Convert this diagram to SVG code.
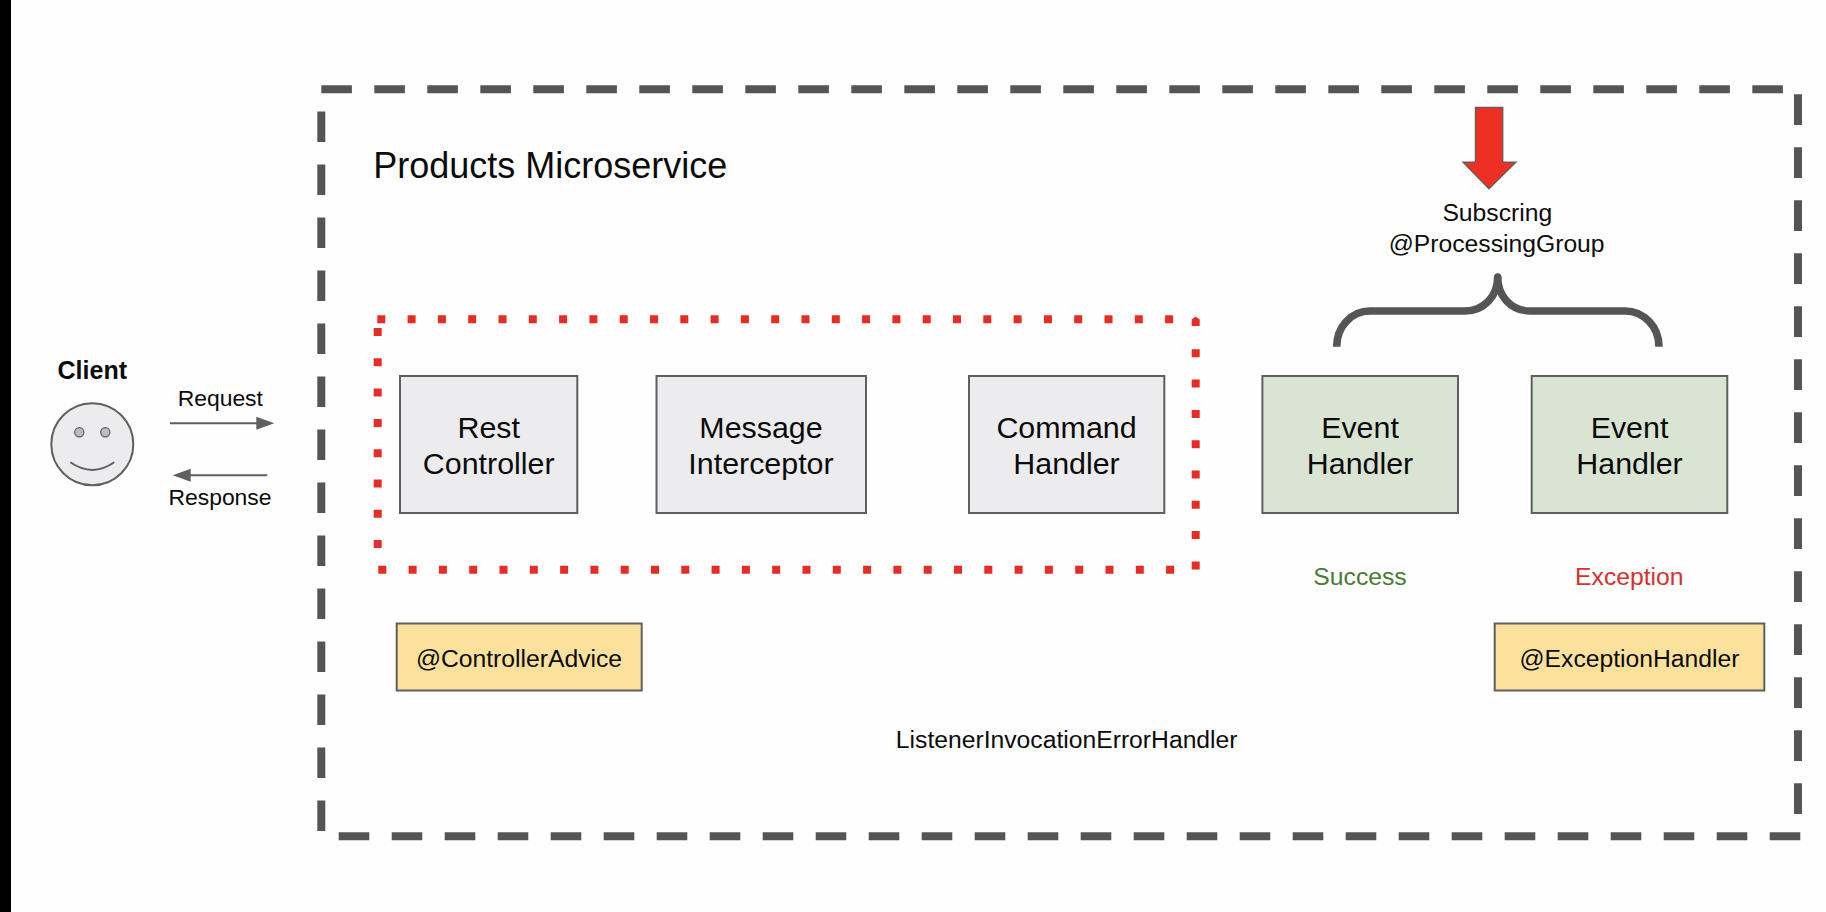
<svg xmlns="http://www.w3.org/2000/svg" width="1826" height="912" viewBox="0 0 1826 912">
<style>
text{font-family:"Liberation Sans",Arial,sans-serif;fill:#0b0b0b;text-anchor:middle}
.box{stroke:#5f5f5f;stroke-width:2}
.grey{fill:#ecebee}
.green{fill:#d9e5d2}
.yellow{fill:#fbe19b}
.big{font-size:30.4px}
.mid{font-size:24.7px}
.small{font-size:22.9px}
.frame{fill:none;stroke:#555557;stroke-width:8;stroke-dasharray:30.6 22.4}
.dots{fill:none;stroke:#e52d25;stroke-width:8;stroke-dasharray:8 22.3}
.conn{fill:none;stroke:#5f5f5f;stroke-width:2}
.head{fill:#5f5f5f}
</style>
<rect width="1826" height="912" fill="#fefefe"/>
<rect x="0" y="0" width="11" height="912" fill="#000"/>

<g id="frame">
<path class="frame" d="M321.3 89.3H1785"/>
<path class="frame" d="M1798 94.3V818"/>
<path class="frame" d="M338.7 836.3H1805"/>
<path class="frame" d="M321.3 831V105"/>
</g>
<g id="red-group">
<path class="dots" d="M377.3 319.3H1178"/>
<path class="dots" d="M377.7 328V552"/>
<path class="dots" d="M378.3 569.7H1178"/>
<path class="dots" d="M1195.7 349.3V570"/>
<path d="M1195.5 316.5L1199.7 319.5V326H1191.7V319.5Z" fill="#e52d25"/>
</g>

<g id="title"><text x="550.3" y="178" style="font-size:36px">Products Microservice</text></g>

<g id="client">
<text x="92.3" y="378.7" font-weight="700" style="font-size:25px">Client</text>
<circle cx="92.3" cy="444.3" r="41" fill="#ecebee" stroke="#5f5f5f" stroke-width="2"/>
<circle cx="79.3" cy="432.3" r="4.6" fill="#bcbcbc" stroke="#5f5f5f" stroke-width="1.2"/>
<circle cx="105.3" cy="432.3" r="4.6" fill="#bcbcbc" stroke="#5f5f5f" stroke-width="1.2"/>
<path d="M70.3 462.3Q92.3 477.5 114.3 462.3" fill="none" stroke="#5f5f5f" stroke-width="2"/>
</g>

<g id="connectors">
<path class="conn" d="M170 423.3H258"/>
<path class="head" d="M256.3 416.8L274.3 423.3L256.3 429.8Z"/>
<path class="conn" d="M267.3 475.3H189"/>
<path class="head" d="M190.7 468.8L172.7 475.3L190.7 481.8Z"/>
<path id="brace" d="M1336.7 346.7C1336.7 327 1351 311 1370 311H1465C1484 311 1497.7 296 1497.7 277C1497.7 296 1511 311 1530 311H1625C1644 311 1659 327 1659 346.7" fill="none" stroke="#555557" stroke-width="7.6"/>
<circle cx="1497.7" cy="277" r="3.8" fill="#555557"/>
</g>

<g id="label-request"><text class="small" x="220.3" y="405.7">Request</text></g>
<g id="label-response"><text class="small" x="220" y="505">Response</text></g>

<g id="rest-controller">
<rect class="box grey" x="400" y="376" width="177.3" height="137"/>
<text class="big" x="488.7" y="438">Rest</text>
<text class="big" x="488.7" y="474">Controller</text>
</g>
<g id="message-interceptor">
<rect class="box grey" x="656.5" y="376" width="209.5" height="137"/>
<text class="big" x="761" y="438">Message</text>
<text class="big" x="761" y="474">Interceptor</text>
</g>
<g id="command-handler">
<rect class="box grey" x="969" y="376" width="195.3" height="137"/>
<text class="big" x="1066.5" y="438">Command</text>
<text class="big" x="1066.5" y="474">Handler</text>
</g>
<g id="event-handler-1">
<rect class="box green" x="1262.4" y="376" width="195.6" height="137"/>
<text class="big" x="1360" y="438">Event</text>
<text class="big" x="1360" y="474">Handler</text>
</g>
<g id="event-handler-2">
<rect class="box green" x="1531.7" y="376" width="195.6" height="137"/>
<text class="big" x="1629.5" y="438">Event</text>
<text class="big" x="1629.5" y="474">Handler</text>
</g>

<g id="label-success"><text class="mid" x="1360" y="585" style="fill:#4a7a35">Success</text></g>
<g id="label-exception"><text class="mid" x="1629.3" y="585" style="fill:#d8302c">Exception</text></g>

<g id="controller-advice">
<rect class="box yellow" x="396.7" y="623.5" width="245" height="67"/>
<text class="mid" x="519" y="666.7">@ControllerAdvice</text>
</g>
<g id="exception-handler">
<rect class="box yellow" x="1494.7" y="623.5" width="269.6" height="67"/>
<text class="mid" x="1629.5" y="666.7">@ExceptionHandler</text>
</g>
<g id="listener-label"><text class="mid" x="1066.7" y="747.7">ListenerInvocationErrorHandler</text></g>

<g id="subscribing">
<path d="M1475.5 107.5H1502.7V162.2H1515.8L1489 188.7L1463.1 162.2H1475.5Z" fill="#ee2f24" stroke="#6b5a58" stroke-width="1.4"/>
<text class="mid" x="1497.3" y="221.3">Subscring</text>
<text class="mid" x="1496.7" y="251.7">@ProcessingGroup</text>
</g>
</svg>
